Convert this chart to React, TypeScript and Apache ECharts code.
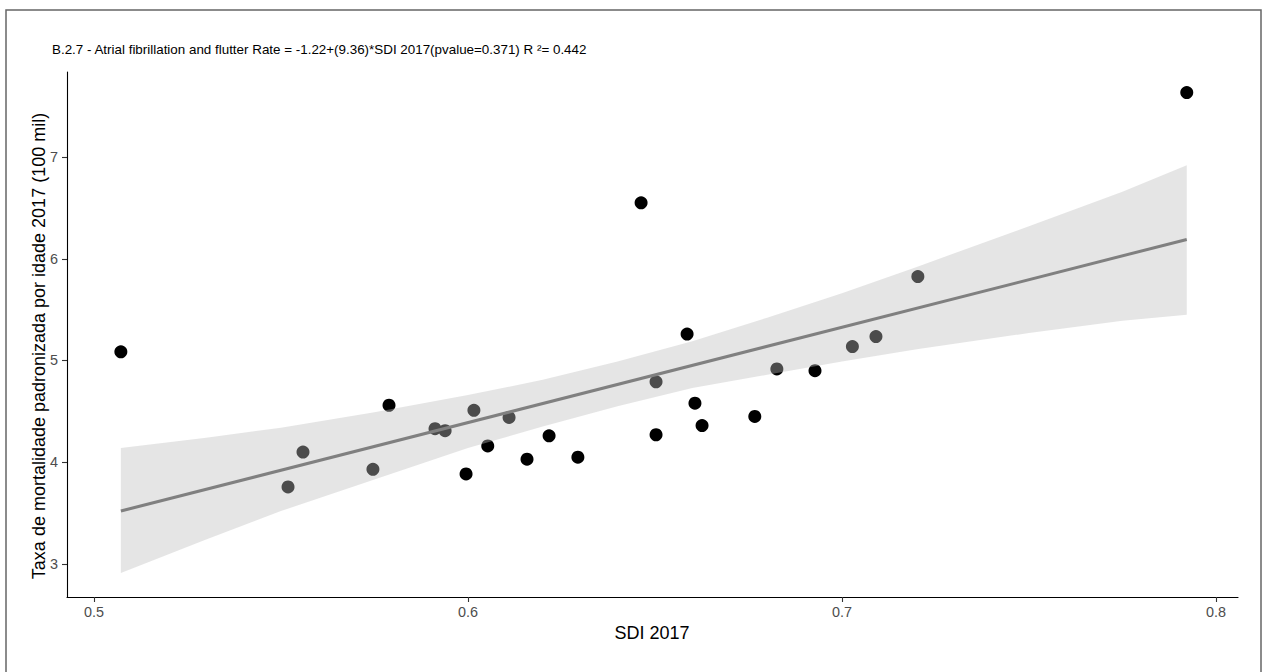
import React, { useEffect, useRef } from "react";
import * as echarts from "echarts";

// Scatter data: SDI 2017 vs age-standardised mortality rate
const sdi = [0.5072, 0.5519, 0.5559, 0.5746, 0.5789, 0.5912, 0.5939, 0.5995, 0.6016, 0.6053, 0.611, 0.6158, 0.6217, 0.6294, 0.6463, 0.6503, 0.6503, 0.6586, 0.6607, 0.6626, 0.6767, 0.6826, 0.6928, 0.7028, 0.7091, 0.7203, 0.7922];
const rate = [5.085, 3.757, 4.1, 3.93, 4.56, 4.33, 4.31, 3.885, 4.51, 4.16, 4.44, 4.03, 4.26, 4.05, 6.55, 4.79, 4.27, 5.26, 4.58, 4.36, 4.45, 4.917, 4.9, 5.137, 5.235, 5.825, 7.634];

// Fitted line endpoints
const fitX = [0.5072, 0.7922];
const fitY = [3.52, 6.19];

// Confidence band
const bandX = [0.5072, 0.53, 0.55, 0.575, 0.6, 0.62, 0.64, 0.66, 0.68, 0.7, 0.72, 0.75, 0.775, 0.7922];
const bandLo = [2.91, 3.24, 3.52, 3.83, 4.14, 4.35, 4.55, 4.73, 4.86, 4.99, 5.11, 5.27, 5.39, 5.45];
const bandHi = [4.14, 4.24, 4.34, 4.49, 4.66, 4.81, 4.99, 5.19, 5.42, 5.66, 5.92, 6.32, 6.66, 6.92];

const xTicks = [0.5, 0.6, 0.7, 0.8];
const yTicks = [3, 4, 5, 6, 7];

const titleText = "B.2.7 - Atrial fibrillation and flutter Rate = -1.22+(9.36)*SDI 2017(pvalue=0.371) R \u00B2= 0.442";
const xTitle = "SDI 2017";
const yTitle = "Taxa de mortalidade padronizada por idade 2017 (100 mil)";

const FONT = "'Liberation Sans', Arial, sans-serif";

export default function App() {
  const ref = useRef<HTMLDivElement>(null);
  useEffect(() => {
    if (!ref.current) return;
    document.body.style.margin = "0";
    const chart = echarts.init(ref.current, null, { renderer: "svg" });
    const axisCommon = {
      axisLine: { show: true, onZero: false, lineStyle: { color: "#000", width: 1.1 } },
      splitLine: { show: false },
    };
    chart.setOption({
      animation: false,
      backgroundColor: "#fff",
      textStyle: { fontFamily: FONT },
      grid: { left: 67, right: 29, top: 72, bottom: 75, containLabel: false },
      xAxis: {
        type: "value",
        min: 0.4928,
        max: 0.8059,
        ...axisCommon,
        axisTick: { show: true, length: 5, lineStyle: { color: "#333", width: 1.1 }, customValues: xTicks },
        axisLabel: { color: "#4d4d4d", fontSize: 14.4, fontFamily: FONT, margin: 8, customValues: xTicks, formatter: (v: number) => String(v) },
      },
      yAxis: {
        type: "value",
        min: 2.675,
        max: 7.836,
        ...axisCommon,
        axisTick: { show: true, length: 5, lineStyle: { color: "#333", width: 1.1 }, customValues: yTicks },
        axisLabel: { color: "#4d4d4d", fontSize: 14.4, fontFamily: FONT, margin: 9, customValues: yTicks, formatter: (v: number) => String(v) },
      },
      graphic: [
        {
          type: "rect",
          shape: { x: 6, y: 10, width: 1255, height: 720 },
          style: { fill: "none", stroke: "#666", lineWidth: 1.5 },
          z: 100,
        },
        {
          type: "text",
          x: 52,
          y: 49,
          style: { text: titleText, fontSize: 13.4, fontFamily: FONT, fill: "#000", textVerticalAlign: "middle" },
        },
        {
          type: "text",
          x: 652,
          y: 633,
          style: { text: xTitle, fontSize: 18, fontFamily: FONT, fill: "#000", textAlign: "center", textVerticalAlign: "middle" },
        },
        {
          type: "text",
          x: 39,
          y: 346,
          rotation: Math.PI / 2,
          style: { text: yTitle, fontSize: 18, fontFamily: FONT, fill: "#000", textAlign: "center", textVerticalAlign: "middle" },
        },
      ],
      series: [
        {
          type: "scatter",
          data: sdi.map((x, i) => [x, rate[i]]),
          symbolSize: 13,
          itemStyle: { color: "#000", opacity: 1 },
          z: 1,
        },
        {
          type: "custom",
          data: bandX.map((x, i) => [x, bandLo[i], bandHi[i]]),
          encode: { x: 0, y: [1, 2] },
          z: 2,
          renderItem: (params: any, api: any) => {
            if (params.dataIndex !== 0) return null;
            const pts: number[][] = [];
            for (let i = 0; i < bandX.length; i++) pts.push(api.coord([bandX[i], bandHi[i]]));
            for (let i = bandX.length - 1; i >= 0; i--) pts.push(api.coord([bandX[i], bandLo[i]]));
            return { type: "polygon", shape: { points: pts }, style: { fill: "rgba(191,191,191,0.4)" } };
          },
        },
        {
          type: "line",
          data: fitX.map((x, i) => [x, fitY[i]]),
          showSymbol: false,
          symbol: "none",
          lineStyle: { color: "#808080", width: 3 },
          z: 3,
        },
      ],
    });
    return () => chart.dispose();
  }, []);
  return <div ref={ref} style={{ position: "fixed", left: 0, top: 0, width: 1267, height: 672 }} />;
}
